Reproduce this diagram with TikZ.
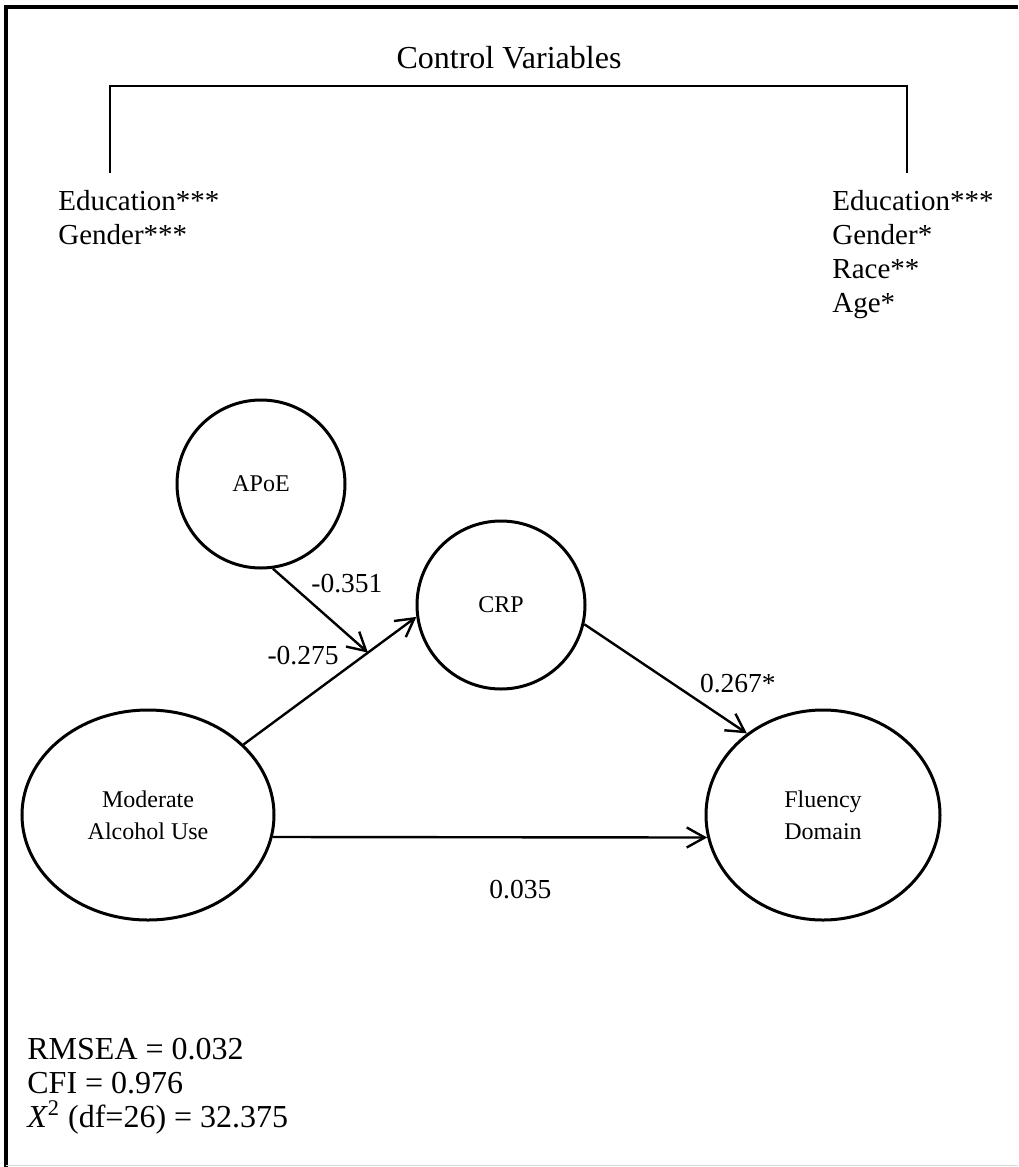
\documentclass[tikz,border=0pt]{standalone}
\usepackage{fontspec}
\setmainfont{Liberation Serif}
\usetikzlibrary{arrows.meta,shapes.geometric}

\begin{document}
\begin{tikzpicture}[x=0.5pt, y=-0.5pt, >={Straight Barb[length=9pt,width=10pt]},
  var/.style={circle, draw, line width=1.5pt, align=center, inner sep=0pt, font=\fontsize{12}{16}\selectfont},
  varx/.style={var, ellipse},
  flecha/.style={->, line width=1.2pt},
  coef/.style={inner sep=2pt, font=\fontsize{13.75}{16}\selectfont},
  lista/.style={align=left, anchor=north west, inner sep=0pt, font=\fontsize{14.5}{17}\selectfont},
  ajuste/.style={align=left, anchor=north west, inner sep=0pt, font=\fontsize{16}{17}\selectfont}]
\useasboundingbox (0,0) rectangle (1018,1167);
% Marco
\draw[line width=2.2pt] (1018,7) -- (6,7) -- (6,1167);
\draw[line width=0.5pt, black!15] (6,1165) -- (1018,1165);
% Controles
\node[font=\fontsize{16}{19}\selectfont] (titulo) at (509,58) {Control Variables};
\draw[line width=0.7pt] (110,173) -- (110,86) -- (907,86) -- (907,173);
\node[lista] (ctrlA) at (58,190) {Education***\\Gender***};
\node[lista] (ctrlB) at (832,190) {Education***\\Gender*\\Race**\\Age*};
% Nodos
\node[var, minimum size=84pt]  (apoe) at (261,484) {APoE};
\node[var, minimum size=84pt]  (crp)  at (501,605) {CRP};
\node[varx, minimum width=126pt, minimum height=105pt] (mod) at (148,815) {Moderate\\Alcohol Use};
\node[varx, minimum width=117pt, minimum height=105pt] (flu) at (823,815) {Fluency\\Domain};
% Ejes
\draw[flecha] (mod) -- node[coef, pos=0.58, anchor=south east] (c275) {-0.275}
  coordinate[pos=0.72] (medio) (crp.188);

\draw[flecha] (apoe.278) -- node[coef, pos=0.35, anchor=south west] (c351) {-0.351} (medio);

\draw[flecha] (crp.347) -- node[coef, pos=0.68, anchor=south west] (c267) {0.267*} (flu.133);

\draw[flecha] (mod.-10) -- node[coef, pos=0.57, below=19pt] (c035) {0.035} (flu.191);
% Ajuste
\node[ajuste] (fit) at (27,1038) {RMSEA = 0.032\\CFI = 0.976\\\textit{X}\textsuperscript{2} (df=26) = 32.375};
\end{tikzpicture}
\end{document}
